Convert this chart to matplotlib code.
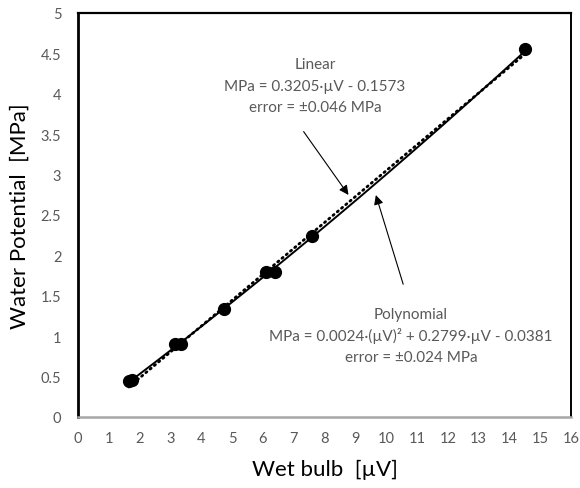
import numpy as np
import matplotlib.pyplot as plt

plt.rcParams['font.family'] = ['Lato', 'DejaVu Sans']

# measured points
uv = [1.65, 1.75, 3.15, 3.35, 4.75, 6.1, 6.4, 7.6, 14.5]
mpa = [0.45, 0.46, 0.9, 0.9, 1.34, 1.8, 1.8, 2.24, 4.55]

# fit coefficients
lin = [0.3205, -0.1573]
poly = [0.0024, 0.2799, -0.0381]

xticks = list(range(0, 17))
yticks = [0, 0.5, 1, 1.5, 2, 2.5, 3, 3.5, 4, 4.5, 5]

fig = plt.figure(figsize=(5.8, 4.89), dpi=100)
ax = fig.add_axes([0.1345, 0.1452, 0.85, 0.8262])

xf = np.linspace(min(uv), max(uv), 200)
ax.plot(xf, np.polyval(lin, xf), color='black', lw=2, linestyle=(0, (0.5, 1.5)),
        dash_capstyle='round')
ax.plot(xf, np.polyval(poly, xf), color='black', lw=1.4)
ax.plot(uv, mpa, 'o', color='black', ms=8.5)

ax.set_xlim(0, 16)
ax.set_ylim(0, 5)
ax.set_xticks(xticks)
ax.set_yticks(yticks)
ax.set_yticklabels(['0', '0.5', '1', '1.5', '2', '2.5', '3', '3.5', '4', '4.5', '5'])
ax.tick_params(length=0, labelsize=10.5, colors='#595959', pad=10)
ax.tick_params(axis='y', pad=12)

for s in ['left', 'top', 'right']:
    ax.spines[s].set_color('black')
ax.spines['left'].set_linewidth(2)
ax.spines['top'].set_linewidth(1.6)
ax.spines['right'].set_linewidth(1.4)
ax.spines['bottom'].set_color('#a6a6a6')
ax.spines['bottom'].set_linewidth(1.8)

ax.set_xlabel('Wet bulb  [µV]', fontsize=16, labelpad=10)
ax.set_ylabel('Water Potential  [MPa]', fontsize=16, labelpad=8)

tc = '#595959'
fs = 11
ax.text(7.69, 4.37, 'Linear', ha='center', va='center', fontsize=fs, color=tc)
ax.text(7.69, 4.10, 'MPa = 0.3205·µV - 0.1573', ha='center', va='center', fontsize=fs, color=tc)
ax.text(7.69, 3.84, 'error = ±0.046 MPa', ha='center', va='center', fontsize=fs, color=tc)

ax.text(10.81, 1.27, 'Polynomial', ha='center', va='center', fontsize=fs, color=tc)
ax.text(10.81, 1.01, 'MPa = 0.0024·(µV)² + 0.2799·µV - 0.0381', ha='center', va='center', fontsize=fs, color=tc)
ax.text(10.81, 0.74, 'error = ±0.024 MPa', ha='center', va='center', fontsize=fs, color=tc)

ax.annotate('', xy=(8.83, 2.72), xytext=(7.27, 3.56),
            arrowprops=dict(arrowstyle='-|>', color='black', lw=0.8, mutation_scale=14))
ax.annotate('', xy=(9.64, 2.78), xytext=(10.58, 1.61),
            arrowprops=dict(arrowstyle='-|>', color='black', lw=0.8, mutation_scale=14))

plt.savefig('out.png', dpi=100)
